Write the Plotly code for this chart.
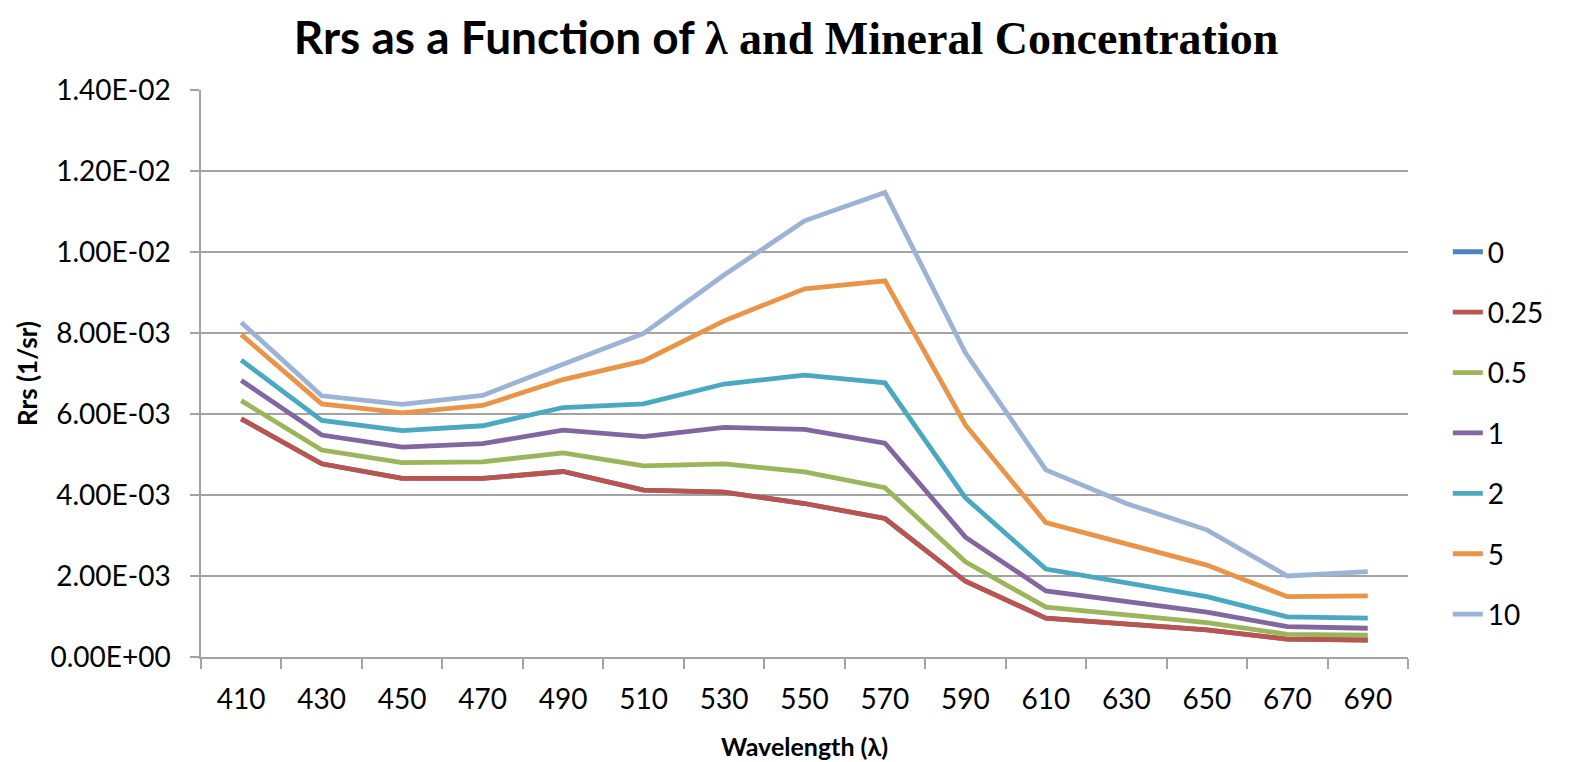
import plotly.graph_objects as go

# Wavelength categories (nm)
wavelengths = ["410", "430", "450", "470", "490", "510", "530", "550",
               "570", "590", "610", "630", "650", "670", "690"]

# Remote-sensing reflectance (1/sr) per mineral concentration
rrs_0 = [5.88e-3, 4.77e-3, 4.41e-3, 4.41e-3, 4.58e-3, 4.12e-3, 4.07e-3, 3.79e-3,
         3.42e-3, 1.87e-3, 0.96e-3, 0.81e-3, 0.67e-3, 0.44e-3, 0.42e-3]
rrs_025 = [5.88e-3, 4.77e-3, 4.41e-3, 4.41e-3, 4.58e-3, 4.12e-3, 4.07e-3, 3.79e-3,
           3.42e-3, 1.87e-3, 0.96e-3, 0.81e-3, 0.67e-3, 0.44e-3, 0.42e-3]
rrs_05 = [6.33e-3, 5.11e-3, 4.80e-3, 4.82e-3, 5.04e-3, 4.72e-3, 4.77e-3, 4.57e-3,
          4.18e-3, 2.35e-3, 1.23e-3, 1.04e-3, 0.85e-3, 0.56e-3, 0.54e-3]
rrs_1 = [6.83e-3, 5.48e-3, 5.18e-3, 5.27e-3, 5.60e-3, 5.44e-3, 5.67e-3, 5.62e-3,
         5.28e-3, 2.96e-3, 1.63e-3, 1.37e-3, 1.11e-3, 0.75e-3, 0.71e-3]
rrs_2 = [7.33e-3, 5.84e-3, 5.59e-3, 5.71e-3, 6.16e-3, 6.25e-3, 6.74e-3, 6.96e-3,
         6.77e-3, 3.93e-3, 2.17e-3, 1.83e-3, 1.49e-3, 0.99e-3, 0.96e-3]
rrs_5 = [7.96e-3, 6.25e-3, 6.03e-3, 6.21e-3, 6.85e-3, 7.31e-3, 8.30e-3, 9.09e-3,
         9.29e-3, 5.73e-3, 3.32e-3, 2.79e-3, 2.27e-3, 1.49e-3, 1.51e-3]
rrs_10 = [8.26e-3, 6.45e-3, 6.24e-3, 6.46e-3, 7.23e-3, 7.99e-3, 9.43e-3, 10.77e-3,
          11.47e-3, 7.51e-3, 4.62e-3, 3.79e-3, 3.14e-3, 2.00e-3, 2.11e-3]

series_names = ["0", "0.25", "0.5", "1", "2", "5", "10"]
series_values = [rrs_0, rrs_025, rrs_05, rrs_1, rrs_2, rrs_5, rrs_10]
series_colors = ["#4F81BD", "#BA544F", "#9BB55A", "#8166A0", "#4AA8C1",
                 "#E8954A", "#9DB3D6"]

y_tick_values = [0, 0.002, 0.004, 0.006, 0.008, 0.010, 0.012, 0.014]
y_tick_labels = ["0.00E+00", "2.00E-03", "4.00E-03", "6.00E-03", "8.00E-03",
                 "1.00E-02", "1.20E-02", "1.40E-02"]

FONT = "Lato, 'Open Sans', sans-serif"
GRID = "#A3A3A3"

fig = go.Figure()
for name, vals, color in zip(series_names, series_values, series_colors):
    fig.add_trace(go.Scatter(
        x=wavelengths, y=vals, name=name, mode="lines",
        line=dict(color=color, width=4.8),
        legendgroup=name,
    ))

fig.update_layout(
    width=1580, height=762,
    margin=dict(l=201, r=172, t=90, b=105),
    paper_bgcolor="white", plot_bgcolor="white",
    font=dict(family=FONT, size=28, color="black"),
    title=dict(
        text="<b>Rrs as a Function of </b>"
             "<span style=\"font-family:'Liberation Serif', serif\"><b>λ and Mineral Concentration</b></span>",
        x=786 / 1580, xanchor="center", xref="container",
        y=1 - 38 / 762, yanchor="middle", yref="container",
        font=dict(family=FONT, size=46, color="black"),
    ),
    showlegend=True,
    legend=dict(
        x=1.033, xanchor="left", y=0.395, yanchor="middle",
        font=dict(family=FONT, size=28, color="black"),
        tracegroupgap=21, bgcolor="rgba(0,0,0,0)",
    ),
    xaxis=dict(
        type="category", tickson="boundaries", range=[-0.5, 14.5],
        automargin=False,
        showgrid=False, showline=True, linecolor=GRID, linewidth=1.5,
        ticks="outside", ticklen=10, tickcolor=GRID, tickwidth=1.5,
        tickfont=dict(family=FONT, size=28),
        ticklabelstandoff=17,
        title=dict(text="<b>Wavelength (λ)</b>", font=dict(family=FONT, size=25), standoff=24),
    ),
    yaxis=dict(
        range=[0, 0.014], tickvals=y_tick_values, ticktext=y_tick_labels,
        automargin=False,
        showgrid=True, gridcolor=GRID, gridwidth=1.5,
        showline=True, linecolor=GRID, linewidth=1.5,
        ticks="outside", ticklen=9, tickcolor=GRID, tickwidth=1.5,
        tickfont=dict(family=FONT, size=28),
        ticklabelstandoff=14,
        zeroline=False,
        title=dict(text="<b>Rrs (1/sr)</b>", font=dict(family=FONT, size=26), standoff=5),
    ),
)

fig.write_html("out.html")
